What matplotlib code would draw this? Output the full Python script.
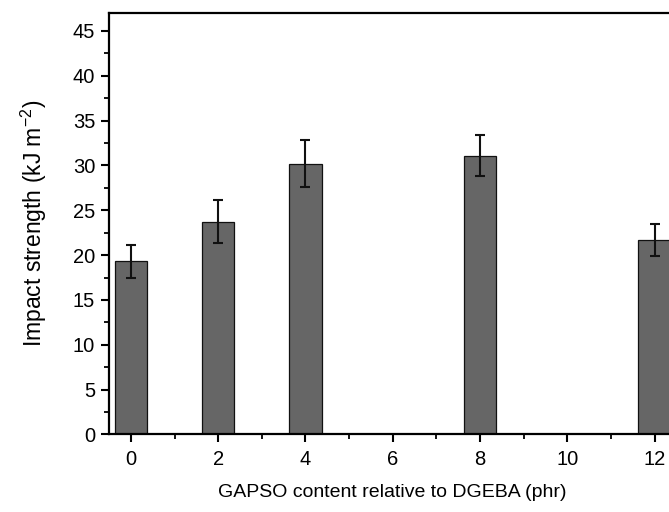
import matplotlib
matplotlib.use("Agg")
import matplotlib.pyplot as plt
from matplotlib.ticker import MultipleLocator

plt.rcParams['font.family'] = ['Liberation Sans', 'DejaVu Sans']

content = [0, 2, 4, 8, 12]
strength = [19.3, 23.7, 30.2, 31.1, 21.7]
error = [1.8, 2.4, 2.6, 2.3, 1.75]
x_ticks = [0, 2, 4, 6, 8, 10, 12]
y_ticks = [0, 5, 10, 15, 20, 25, 30, 35, 40, 45]

fig = plt.figure(figsize=(6.69, 5.12), dpi=100)
ax = fig.add_axes([0.163, 0.1514, 0.848, 0.8232])

ax.bar(content, strength, width=0.74, color='#666666', edgecolor='#111111', linewidth=0.9,
       yerr=error, capsize=3.5, error_kw=dict(ecolor='#111111', elinewidth=1.5, capthick=1.5))

ax.set_xlim(-0.5, 12.5)
ax.set_ylim(0, 47)
ax.set_xticks(x_ticks)
ax.set_yticks(y_ticks)
ax.xaxis.set_minor_locator(MultipleLocator(1))
ax.yaxis.set_minor_locator(MultipleLocator(2.5))

for s in ax.spines.values():
    s.set_linewidth(1.6)
ax.tick_params(which='major', direction='out', length=6, width=1.5, labelsize=14.5, pad=4)
ax.tick_params(axis='x', which='major', pad=5)
ax.tick_params(which='minor', direction='out', length=3.5, width=1.3)
ax.tick_params(top=False, right=False, which='both')

ax.set_xlabel('GAPSO content relative to DGEBA (phr)', fontsize=14, labelpad=11)
ax.set_ylabel('Impact strength (kJ m$^{\\mathregular{-2}}$)', fontsize=16.5, labelpad=17)

fig.savefig('out.png', dpi=100)
